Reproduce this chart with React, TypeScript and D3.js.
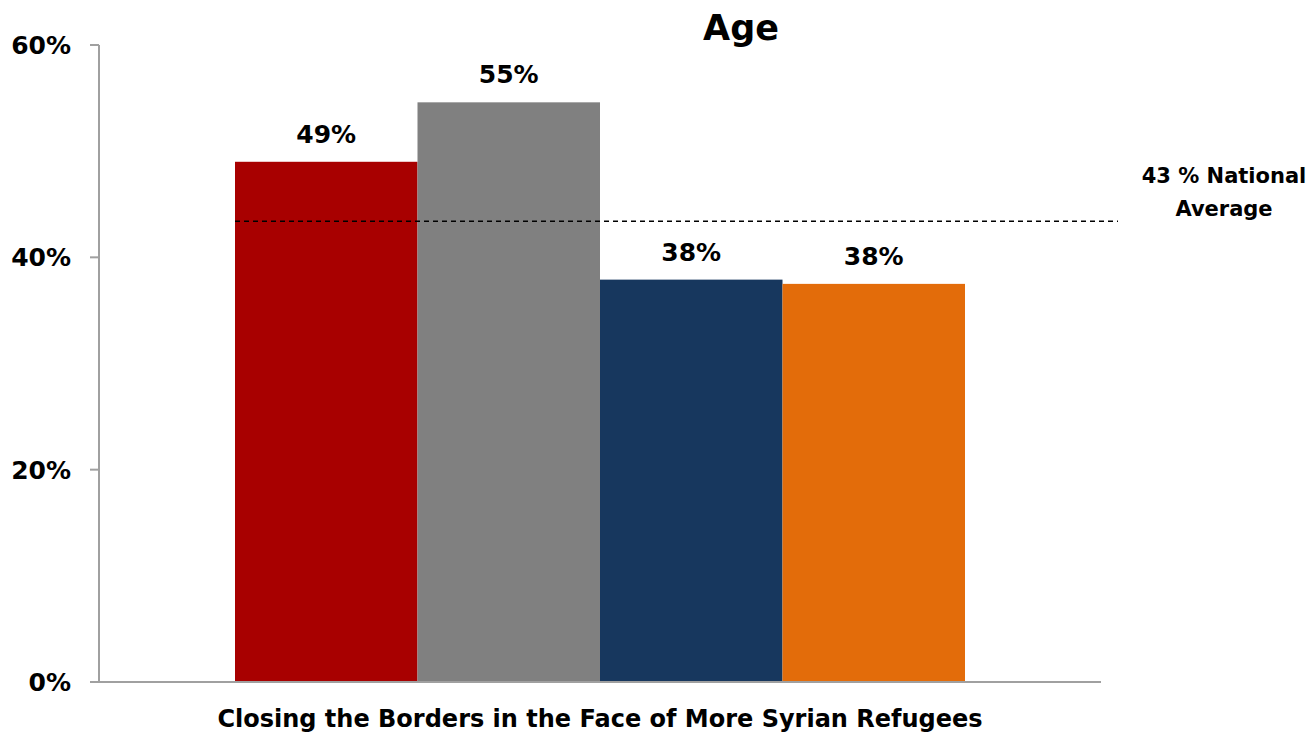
import React from "react";
import * as d3 from "d3";

const categories = ["Group A", "Group B", "Group C", "Group D"];
const values = [49, 54.6, 37.9, 37.5];
const valueLabels = ["49%", "55%", "38%", "38%"];
const colors = ["#A80000", "#808080", "#17375E", "#E36C0A"];
const yTicks = [0, 20, 40, 60];
const nationalAverage = 43.4;
const nationalLabel = ["43 % National", "Average"];
const xLabel = "Closing the Borders in the Face of More Syrian Refugees";
const title = "Age";

export default function App() {
  const W = 1314, H = 736;
  const left = 99, right = 1101, top = 45, bottom = 682;
  const y = d3.scaleLinear().domain([0, 60]).range([bottom, top]);
  const x = d3.scaleBand().domain(categories).range([235, 965]).paddingInner(0).paddingOuter(0);
  const font = "'DejaVu Sans', sans-serif";
  return (
    <svg width={W} height={H} style={{ position: "absolute", left: 0, top: 0 }} fontFamily={font}>
      <rect x={0} y={0} width={W} height={H} fill="#fff" />
      {categories.map((c, i) => (
        <rect key={c} x={x(c)} y={y(values[i])} width={x.bandwidth()} height={bottom - y(values[i])} fill={colors[i]} />
      ))}
      <line x1={235} x2={1118} y1={y(nationalAverage)} y2={y(nationalAverage)} stroke="#000" strokeWidth={1.3} strokeDasharray="5,4" />
      <line x1={left} x2={left} y1={top} y2={bottom} stroke="#a0a0a0" strokeWidth={2} />
      <line x1={left - 9} x2={right} y1={bottom} y2={bottom} stroke="#a0a0a0" strokeWidth={2} />
      {yTicks.map((t) => (
        <g key={t}>
          <line x1={left - 9} x2={left} y1={y(t)} y2={y(t)} stroke="#a0a0a0" strokeWidth={2} />
          <text x={71} y={y(t)} dy="0.36em" textAnchor="end" fontSize={25} fontWeight="bold" fill="#000">{t}%</text>
        </g>
      ))}
      {categories.map((c, i) => (
        <text key={c} x={(x(c) as number) + x.bandwidth() / 2} y={y(values[i]) - 19} textAnchor="middle" fontSize={25} fontWeight="bold" fill="#000">{valueLabels[i]}</text>
      ))}
      <text x={1224} y={183} textAnchor="middle" fontSize={21} fontWeight="bold" fill="#000">{nationalLabel[0]}</text>
      <text x={1224} y={216} textAnchor="middle" fontSize={21} fontWeight="bold" fill="#000">{nationalLabel[1]}</text>
      <text x={741} y={40} textAnchor="middle" fontSize={35} fontWeight="bold" fill="#000">{title}</text>
      <text x={600} y={727} textAnchor="middle" fontSize={24} fontWeight="bold" fill="#000">{xLabel}</text>
    </svg>
  );
}
